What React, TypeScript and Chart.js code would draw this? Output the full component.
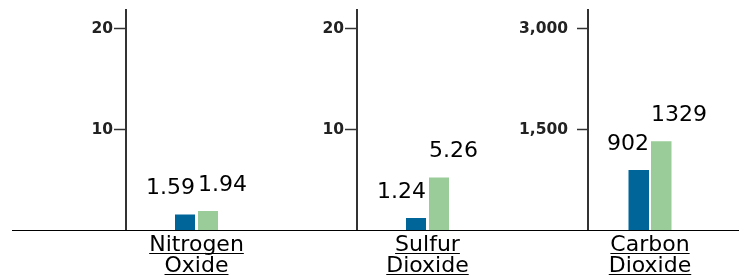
import React, { useEffect, useRef } from 'react';
import { Chart, registerables } from 'chart.js';

Chart.register(...registerables);

// ---- data ----
const categoryLines: string[][] = [
  ['Nitrogen', 'Oxide'],
  ['Sulfur', 'Dioxide'],
  ['Carbon', 'Dioxide'],
];
const seriesNames = ['Series A', 'Series B'];
const blueValues = [1.59, 1.24, 902];
const greenValues = [1.94, 5.26, 1329];
const yMaxValues = [21.87, 21.87, 3281];
const yTickValues: number[][] = [
  [10, 20],
  [10, 20],
  [1500, 3000],
];

const BLUE = '#006699';
const GREEN = '#99cc99';
const FONT = "'DejaVu Sans', Verdana, sans-serif";

const panelLayout = [
  { left: 12, width: 255, axisWidth: 114, padRight: 0, tickLength: 12, tickPadding: 1, catPct: 46 / 141, barPct: 20 / 23 },
  { left: 267, width: 231, axisWidth: 90, padRight: 0, tickLength: 12, tickPadding: 1, catPct: 46 / 141, barPct: 20 / 23 },
  { left: 498, width: 241, axisWidth: 90, padRight: 27, tickLength: 11, tickPadding: 9, catPct: 45 / 124, barPct: 20.5 / 22.5 },
];

const decorPlugin = {
  id: 'panelDecor',
  afterDatasetsDraw(chart: any, _args: any, opts: any) {
    const ctx: CanvasRenderingContext2D = chart.ctx;
    const xs = chart.scales.x;
    const ys = chart.scales.y;
    ctx.save();
    // baseline across the whole canvas
    const y0 = Math.floor(ys.getPixelForValue(0)) + 0.5;
    ctx.strokeStyle = '#000';
    ctx.lineWidth = 1;
    ctx.beginPath();
    ctx.moveTo(0, y0);
    ctx.lineTo(chart.width, y0);
    ctx.stroke();

    // value labels
    ctx.fillStyle = '#000';
    ctx.font = `22px ${FONT}`;
    ctx.textBaseline = 'alphabetic';
    chart.data.datasets.forEach((ds: any, di: number) => {
      const meta = chart.getDatasetMeta(di);
      meta.data.forEach((el: any, i: number) => {
        const v = ds.data[i];
        const text = String(v);
        if (di === 0) {
          ctx.textAlign = 'right';
          ctx.fillText(text, el.x + el.width / 2, el.y - 20);
        } else {
          ctx.textAlign = 'left';
          ctx.fillText(text, el.x - el.width / 2, el.y - 20);
        }
      });
    });

    // category labels, underlined
    const lines: string[] = opts.lines || [];
    const cx = xs.getPixelForValue(0);
    ctx.font = `22px ${FONT}`;
    ctx.textAlign = 'center';
    const baselines = [251, 271.5];
    lines.forEach((line, li) => {
      const by = baselines[li];
      ctx.fillText(line, cx, by);
      const w = ctx.measureText(line).width;
      ctx.beginPath();
      ctx.moveTo(cx - w / 2, Math.round(by + 2) + 0.5);
      ctx.lineTo(cx + w / 2, Math.round(by + 2) + 0.5);
      ctx.stroke();
    });
    ctx.restore();
  },
};

function Panel({ index }: { index: number }) {
  const ref = useRef<HTMLCanvasElement>(null);
  const p = panelLayout[index];
  useEffect(() => {
    const ticks = yTickValues[index];
    const chart = new Chart(ref.current as HTMLCanvasElement, {
      type: 'bar',
      data: {
        labels: [categoryLines[index].join(' ')],
        datasets: [
          {
            label: seriesNames[0],
            data: [blueValues[index]],
            backgroundColor: BLUE,
            categoryPercentage: p.catPct,
            barPercentage: p.barPct,
          },
          {
            label: seriesNames[1],
            data: [greenValues[index]],
            backgroundColor: GREEN,
            categoryPercentage: p.catPct,
            barPercentage: p.barPct,
          },
        ],
      },
      options: {
        animation: false,
        responsive: false,
        devicePixelRatio: 1,
        layout: { padding: { left: 0, right: p.padRight, top: 10, bottom: 45.5 } },
        plugins: {
          legend: { display: false },
          tooltip: { enabled: false },
          panelDecor: { lines: categoryLines[index] },
        } as any,
        scales: {
          x: { display: false },
          y: {
            min: 0,
            max: yMaxValues[index],
            afterBuildTicks: (s: any) => {
              s.ticks = ticks.map((v) => ({ value: v }));
            },
            afterFit: (s: any) => {
              s.width = p.axisWidth;
              s.paddingTop = 0;
              s.paddingBottom = 0;
            },
            border: { display: true, color: '#333', width: 2 },
            grid: {
              drawOnChartArea: false,
              drawTicks: true,
              tickLength: p.tickLength,
              tickColor: '#333',
              tickWidth: 1.5,
            },
            ticks: {
              padding: p.tickPadding,
              color: '#222',
              font: { family: FONT, size: 15.5, weight: 'bold' },
              callback: (v: any) => Number(v).toLocaleString('en-US'),
            },
          },
        },
      },
      plugins: [decorPlugin],
    });
    return () => chart.destroy();
  }, [index]);
  return (
    <canvas
      ref={ref}
      width={p.width}
      height={276}
      style={{ position: 'absolute', left: p.left, top: 0, width: p.width, height: 276 }}
    />
  );
}

export default function App() {
  return (
    <div style={{ position: 'absolute', left: 0, top: 0, width: 739, height: 276, background: '#fff' }}>
      {categoryLines.map((_, i) => (
        <Panel key={i} index={i} />
      ))}
    </div>
  );
}
